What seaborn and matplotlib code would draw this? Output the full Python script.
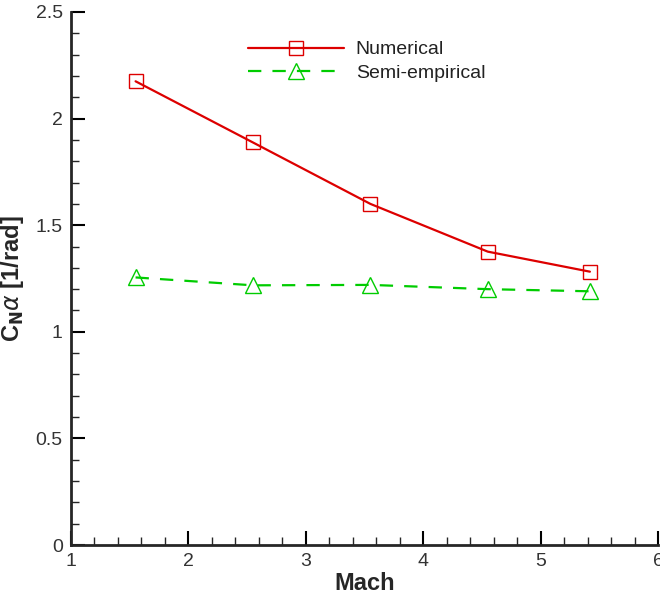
import matplotlib
matplotlib.use("Agg")
import matplotlib.pyplot as plt
import seaborn as sns
import pandas as pd
from matplotlib.ticker import MultipleLocator

mach_num = [1.55, 2.55, 3.55, 4.55, 5.42]
cn_num = [2.175, 1.888, 1.600, 1.376, 1.282]
mach_semi = [1.55, 2.55, 3.55, 4.55, 5.42]
cn_semi = [1.255, 1.218, 1.220, 1.200, 1.190]
series_names = ["Numerical", "Semi-empirical"]

sns.set_style("ticks")
plt.rcParams['font.family'] = ['Liberation Sans', 'DejaVu Sans']

fig = plt.figure(figsize=(6.6, 5.96), dpi=100)
ax = fig.add_axes([71/660, 1-545/596, (658-71)/660, (545-12)/596])

df_num = pd.DataFrame({"Mach": mach_num, "CN": cn_num})
df_semi = pd.DataFrame({"Mach": mach_semi, "CN": cn_semi})

red = "#dd0000"
green = "#00cc00"
sns.lineplot(data=df_num, x="Mach", y="CN", ax=ax, color=red, lw=1.6,
             marker="s", markersize=10, markerfacecolor="none",
             markeredgecolor=red, markeredgewidth=1.0, label=series_names[0])
sns.lineplot(data=df_semi, x="Mach", y="CN", ax=ax, color=green, lw=1.6,
             linestyle=(0, (6, 5)),
             marker="^", markersize=11, markerfacecolor="none",
             markeredgecolor=green, markeredgewidth=1.0, label=series_names[1])

ax.set_xlim(1, 6)
ax.set_ylim(0, 2.5)
ax.xaxis.set_major_locator(MultipleLocator(1))
ax.xaxis.set_minor_locator(MultipleLocator(0.2))
ax.yaxis.set_major_locator(MultipleLocator(0.5))
ax.yaxis.set_minor_locator(MultipleLocator(0.1))
ax.set_xticks([1, 2, 3, 4, 5, 6])
ax.set_xticklabels(["1", "2", "3", "4", "5", "6"])
ax.set_yticks([0, 0.5, 1, 1.5, 2, 2.5])
ax.set_yticklabels(["0", "0.5", "1", "1.5", "2", "2.5"])
ax.tick_params(which="major", direction="in", length=10, width=1.5,
               labelsize=14, pad=6, colors="black", labelcolor="#333333")
ax.tick_params(which="minor", direction="in", length=6, width=1.0)
for s in ["top", "right"]:
    ax.spines[s].set_visible(False)
for s in ["left", "bottom"]:
    ax.spines[s].set_linewidth(2)

ax.set_xlabel("Mach", fontsize=17, fontweight="bold")
ax.set_ylabel(r"C$_\mathbf{N}$$\alpha$ [1/rad]", fontsize=17, fontweight="bold")
ax.yaxis.set_label_coords(-0.077, 0.5)
ax.xaxis.set_label_coords(0.5, -0.05)

leg = ax.legend(loc="upper left", bbox_to_anchor=((240-71)/587, 1-(33-12)/533),
                frameon=False, fontsize=14, handlelength=4.95, handletextpad=0.6,
                labelspacing=0.3, borderaxespad=0)
for t in leg.get_texts():
    t.set_color("#222222")

fig.savefig("out.png", dpi=100)
